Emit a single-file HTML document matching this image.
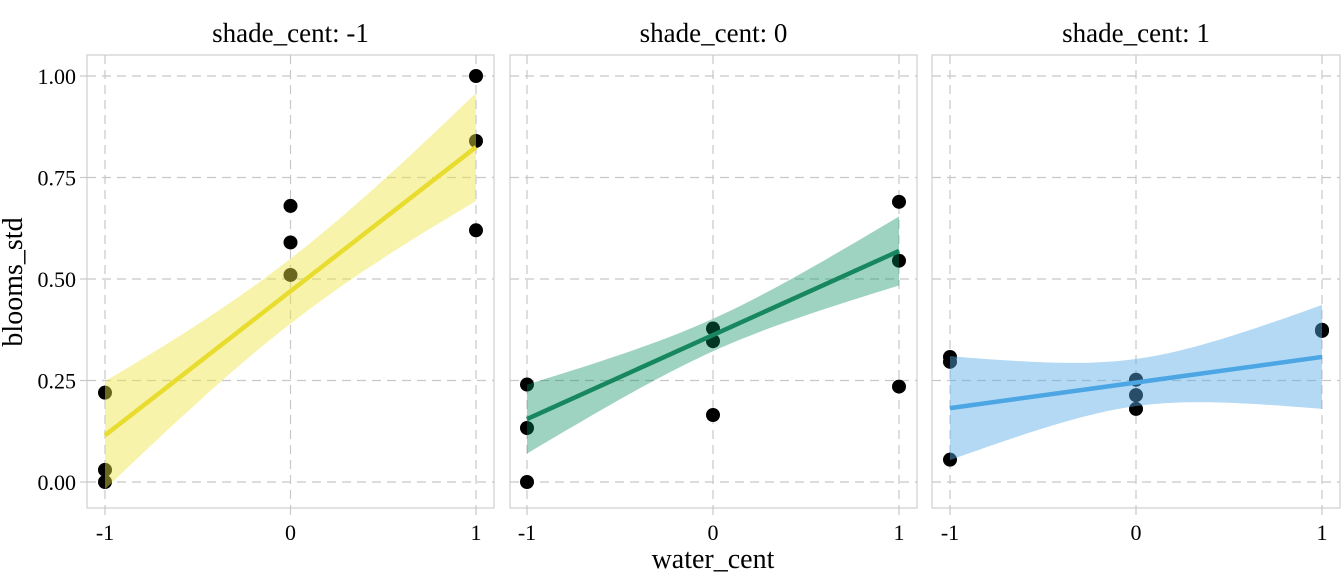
<!DOCTYPE html>
<html><head><meta charset="utf-8">
<style>body{margin:0;background:#fff}svg{display:block}text{font-family:"Liberation Serif",serif;fill:#000}</style>
</head><body>
<svg id="s" width="1344" height="576" xmlns="http://www.w3.org/2000/svg"></svg>
<script>
const s=document.getElementById('s');let h='';
const Y=v=>482-v*406;
const panels=[
 {L:87,R:494,x0:105,x1:476,t:'shade_cent: -1',c:'#E8DC2E',f:'rgba(240,228,66,0.45)',a:0.47,b:0.355,m:0.08,e:0.133,
  p:[[-1,0.22],[-1,0.03],[-1,0],[0,0.68],[0,0.59],[0,0.51],[1,1],[1,0.84],[1,0.62]]},
 {L:510,R:917,x0:527,x1:899,t:'shade_cent: 0',c:'#16875E',f:'rgba(0,140,95,0.38)',a:0.362,b:0.207,m:0.04,e:0.085,
  p:[[-1,0.24],[-1,0.133],[-1,0],[0,0.378],[0,0.347],[0,0.165],[1,0.69],[1,0.545],[1,0.235]]},
 {L:932,R:1340,x0:950,x1:1322,t:'shade_cent: 1',c:'#4BA6E3',f:'rgba(86,170,230,0.45)',a:0.245,b:0.063,m:0.058,e:0.128,
  p:[[-1,0.308],[-1,0.296],[-1,0.055],[0,0.252],[0,0.214],[0,0.18],[1,0.375],[1,0.372]]}
];
h+='<text x="22" y="282" font-size="28" text-anchor="middle" transform="rotate(-90 22 282)">blooms_std</text>';
h+='<text x="713" y="568" font-size="28" text-anchor="middle">water_cent</text>';
panels.forEach((P,i)=>{
 const X=v=>P.x0+(v+1)/2*(P.x1-P.x0);
 h+=`<text x="${(P.L+P.R)/2}" y="42" font-size="27" text-anchor="middle">${P.t}</text>`;
 h+=`<rect x="${P.L}" y="55" width="${P.R-P.L}" height="453" fill="none" stroke="#cfcfcf" stroke-width="1.2"/>`;
 [0,0.25,0.5,0.75,1].forEach(v=>{h+=`<line x1="${P.L}" x2="${P.R}" y1="${Y(v)}" y2="${Y(v)}" stroke="#c8c8c8" stroke-width="1.2" stroke-dasharray="9,6"/>`;
  if(i==0){h+=`<line x1="80" x2="${P.L}" y1="${Y(v)}" y2="${Y(v)}" stroke="#c8c8c8" stroke-width="1.2"/><text x="76" y="${Y(v)+8}" font-size="22" text-anchor="end">${v.toFixed(2)}</text>`;}});
 [-1,0,1].forEach(v=>{const x=X(v);h+=`<line x1="${x}" x2="${x}" y1="55" y2="508" stroke="#c8c8c8" stroke-width="1.2" stroke-dasharray="9,6"/><line x1="${x}" x2="${x}" y1="508" y2="515" stroke="#c8c8c8" stroke-width="1.2"/><text x="${x}" y="540" font-size="22" text-anchor="middle">${v}</text>`;});
 P.p.forEach(q=>{h+=`<circle cx="${X(q[0])}" cy="${Y(q[1])}" r="7" fill="#000"/>`;});
 let up=[],lo=[];
 for(let k=0;k<=40;k++){const x=-1+k/20;const y=P.a+P.b*x;const hw=Math.sqrt(P.m*P.m+(P.e*P.e-P.m*P.m)*x*x);
  up.push(X(x).toFixed(1)+','+Y(y+hw).toFixed(1));lo.unshift(X(x).toFixed(1)+','+Y(y-hw).toFixed(1));}
 h+=`<polygon points="${up.concat(lo).join(' ')}" fill="${P.f}"/>`;
 h+=`<line x1="${X(-1)}" y1="${Y(P.a-P.b)}" x2="${X(1)}" y2="${Y(P.a+P.b)}" stroke="${P.c}" stroke-width="4.5"/>`;
});
s.innerHTML=h;
</script>
</body></html>
